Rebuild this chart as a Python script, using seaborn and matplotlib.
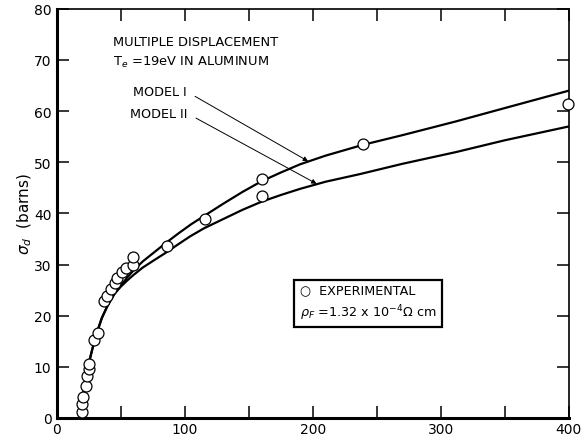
import numpy as np
import pandas as pd
import seaborn as sns
import matplotlib.pyplot as plt

# experimental points (energy, sigma_d)
exp_x = [19.3, 19.5, 20.6, 22.4, 23.7, 24.7, 25.3, 29.2, 32.0, 36.7, 38.8, 42.2,
         45.0, 47.1, 50.8, 53.9, 59.6, 59.6, 85.7, 115.6, 160.4, 160.4, 238.8, 399.0]
exp_y = [1.2, 2.7, 4.2, 6.3, 8.2, 9.5, 10.6, 15.3, 16.7, 22.9, 23.9, 25.2,
         26.4, 27.3, 28.5, 29.3, 30.0, 31.4, 33.7, 38.9, 46.8, 43.5, 53.5, 61.3]

# model curves
m1_x = [17.5, 19, 21, 23, 25, 28, 31, 35, 40, 45, 50, 55, 60, 67, 75, 85, 95, 105,
        115, 130, 145, 160, 175, 190, 210, 239, 270, 312, 350, 400]
m1_y = [0.0, 2.5, 5.5, 8.3, 10.8, 13.8, 16.5, 19.5, 22.2, 24.3, 25.9, 27.5, 28.9,
        30.6, 32.2, 34.2, 36.1, 37.9, 39.5, 41.9, 44.2, 46.3, 48.0, 49.6, 51.3,
        53.4, 55.3, 58.0, 60.6, 64.0]
m2_x = [17.5, 19, 21, 23, 25, 28, 31, 35, 40, 45, 50, 55, 60, 67, 75, 85, 95, 104,
        115, 130, 145, 160, 175, 190, 210, 237, 270, 312, 350, 400]
m2_y = [0.0, 2.5, 5.5, 8.3, 10.8, 13.8, 16.5, 19.5, 22.2, 24.3, 25.7, 26.9, 28.0,
        29.4, 30.7, 32.3, 34.0, 35.5, 37.1, 38.9, 40.7, 42.3, 43.6, 44.8, 46.2,
        47.7, 49.7, 52.0, 54.3, 57.0]

exp = pd.DataFrame({'E': exp_x, 'sigma': exp_y})
curves = pd.concat([
    pd.DataFrame({'E': m1_x, 'sigma': m1_y, 'model': 'MODEL I'}),
    pd.DataFrame({'E': m2_x, 'sigma': m2_y, 'model': 'MODEL II'}),
])

sns.set_style('ticks')
plt.rcParams['font.family'] = ['DejaVu Sans']
for key in ['text.color', 'axes.labelcolor', 'xtick.color', 'ytick.color', 'axes.edgecolor']:
    plt.rcParams[key] = 'black'

fig = plt.figure(figsize=(5.81, 4.39), dpi=100)
ax = fig.add_axes([0.098, 0.0456, 0.881, 0.932])

sns.lineplot(data=curves, x='E', y='sigma', units='model', estimator=None,
             color='black', lw=1.6, ax=ax, legend=False)
sns.scatterplot(data=exp, x='E', y='sigma', marker='o', s=62, facecolor='white',
                edgecolor='black', linewidth=0.9, zorder=5, clip_on=False, ax=ax)

ax.set_xlim(0, 400)
ax.set_ylim(0, 80)
ax.set_xticks(np.arange(0, 401, 50))
ax.set_xticklabels(['0', '', '100', '', '200', '', '300', '', '400'])
ax.set_yticks(np.arange(0, 81, 10))
ax.tick_params(direction='in', length=8.5, width=1.1, labelsize=10,
               top=True, right=True, pad=3)
ax.tick_params(axis='y', pad=4)
for side in ['left', 'bottom']:
    ax.spines[side].set_linewidth(2.2)
for side in ['top', 'right']:
    ax.spines[side].set_linewidth(1.2)

ax.set_xlabel('')
ax.set_ylabel(r'$\sigma_d$  (barns)', fontsize=11, labelpad=0)

ax.text(43.5, 73.6, 'MULTIPLE DISPLACEMENT', fontsize=9.4, va='center')
ax.text(43.5, 69.7, r'T$_e$ =19eV IN ALUMINUM', fontsize=9.4, va='center')

arrow = dict(arrowstyle='-|>', lw=0.7, color='black', mutation_scale=7,
             shrinkA=4, shrinkB=0, relpos=(1, 0.5))
ax.annotate('MODEL I', xy=(196.3, 50.2), xytext=(101.6, 63.8), ha='right',
            va='center', fontsize=9.2, arrowprops=arrow)
ax.annotate('MODEL II', xy=(202.9, 45.8), xytext=(102.3, 59.5), ha='right',
            va='center', fontsize=9.2, arrowprops=arrow)

ax.text(0.475, 0.283, '\u25cb  EXPERIMENTAL\n' + r'$\rho_F$ =1.32 x 10$^{-4}\Omega$ cm',
        transform=ax.transAxes, fontsize=9.2, va='center', ha='left', linespacing=1.45,
        bbox=dict(boxstyle='square,pad=0.45', facecolor='white', edgecolor='black', lw=1.6))

plt.savefig('out.png', dpi=100)
